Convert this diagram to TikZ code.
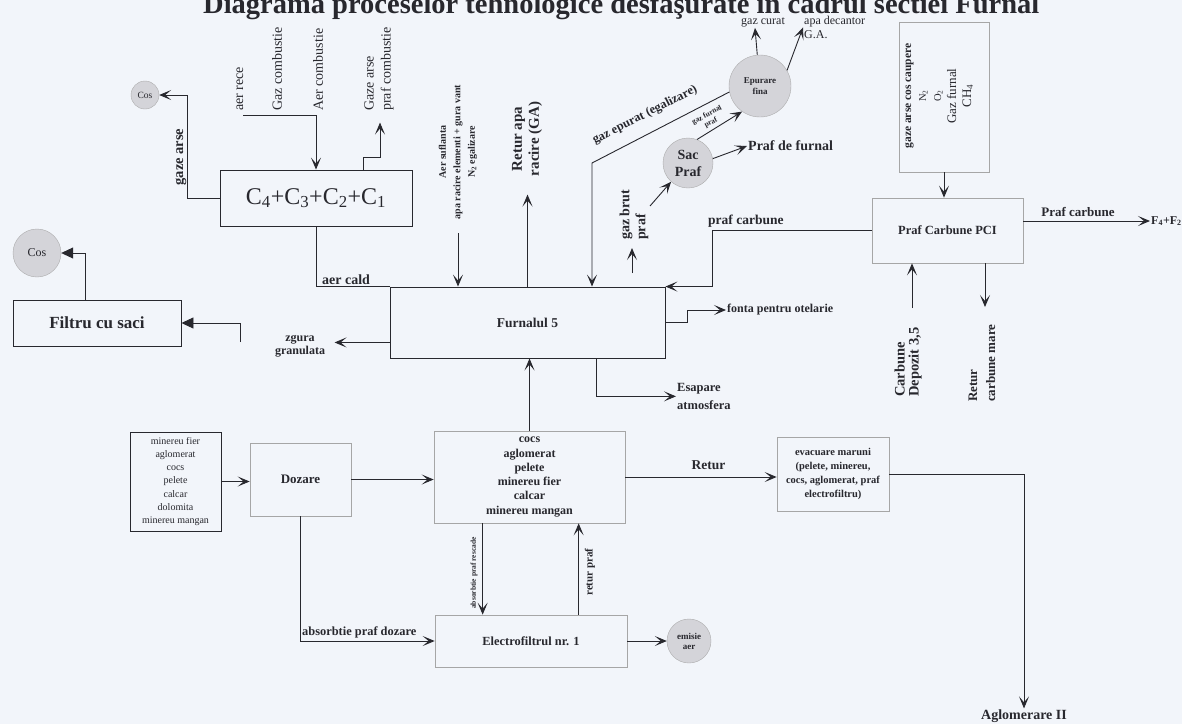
\documentclass[tikz,border=0pt]{standalone}
\usepackage{fontspec}
\setmainfont{Liberation Serif}
\usetikzlibrary{arrows.meta,positioning,calc}
\definecolor{paper}{RGB}{242,245,250}
\definecolor{ink}{RGB}{40,40,46}
\definecolor{disk}{RGB}{212,212,217}

\begin{document}
\begin{tikzpicture}[x=1pt,y=-1pt,
    every node/.style={text=ink,inner sep=1pt},
    fb/.style 2 args={font=\bfseries\fontsize{#1}{#2}\selectfont},
    fr/.style 2 args={font=\fontsize{#1}{#2}\selectfont},
    unit/.style={draw=ink,line width=0.9pt,inner sep=2pt},
    pale/.style={draw=gray!70,line width=0.7pt,inner sep=2pt},
    disc/.style={circle,draw=gray!65,fill=disk,inner sep=0pt},
    flow/.style={draw=ink,line width=0.9pt,-{Stealth[length=12pt,width=10pt,inset=6pt]}},
    fill flow/.style={draw=ink,line width=0.9pt,-{Triangle[length=12pt,width=11pt]}},
    pipe/.style={draw=ink,line width=0.9pt},
    up/.style={rotate=90}]

  \path[use as bounding box,fill=paper] (0,0) rectangle (1182,724);

  % title, cut by the top edge
  \node[fb={28.5}{30},anchor=base west] (title) at (202,13)
    {Diagrama proceselor tehnologice desfaşurate in cadrul sectiei Furnal};

  % units
  \node[unit,fr={24}{26},minimum width=192,minimum height=56] (cowper) at (316,198)
    {C\textsubscript{4}+C\textsubscript{3}+C\textsubscript{2}+C\textsubscript{1}};
  \node[unit,fb={17}{19},minimum width=168,minimum height=46] (filtru) at (97,323) {Filtru cu saci};
  \node[unit,fb={13.5}{15},minimum width=275,minimum height=71] (furnal) at (527.5,322.5) {Furnalul 5};
  \node[pale,minimum width=90,minimum height=150] (gazbox) at (944,97) {};
  \node[pale,fb={12.5}{14},minimum width=151,minimum height=65] (pci) at (947.5,230.5) {Praf Carbune PCI};
  \node[unit,fr={10}{13.3},align=center,minimum width=91,minimum height=99] (raw) at (175.5,481.5)
    {minereu fier\\aglomerat\\cocs\\pelete\\calcar\\dolomita\\minereu mangan};
  \node[pale,fb={13}{15},minimum width=101,minimum height=73] (dozare) at (300.5,479.5) {Dozare};
  \node[pale,fb={12}{14.3},align=center,minimum width=191,minimum height=92] (charge) at (529.5,477)
    {cocs\\aglomerat\\pelete\\minereu fier\\calcar\\minereu mangan};
  \node[pale,fb={10.5}{14.3},align=center,minimum width=112,minimum height=74] (evac) at (833,474)
    {evacuare maruni\\(pelete, minereu,\\cocs, aglomerat, praf\\electrofiltru)};
  \node[pale,fb={12.4}{14},minimum width=192,minimum height=52] (electro) at (531,641) {Electrofiltrul nr. 1};

  % discs
  \node[disc,minimum size=28,fr={9.5}{10}] (cos1) at (145,95) {Cos};
  \node[disc,minimum size=48,fr={12}{13}] (cos2) at (37,253) {Cos};
  \node[disc,minimum size=50,fb={14}{17},align=center] (sac) at (688,163) {Sac\\Praf};
  \node[disc,minimum size=62,fb={9}{11},align=center] (epur) at (760,86) {Epurare\\fina};
  \node[disc,minimum size=44,fb={9}{10},align=center] (emisie) at (689,641) {emisie\\aer};

  % labels
  \node[fb={14.5}{16},up] (lgaze) at (181,157) {gaze arse};
  \node[fr={14}{16},up,anchor=west] (lrece) at (240,112) {aer rece};
  \node[fr={14}{16},up,anchor=west] (lgazc) at (277,112) {Gaz combustie};
  \node[fr={14}{16},up,anchor=west] (laerc) at (318,112) {Aer combustie};
  \node[fr={14}{17},up,anchor=west,align=left] (lgazarse) at (379,112) {Gaze arse\\praf combustie};
  \node[fb={14}{16},anchor=south west] (lcald) at (321,286) {aer cald};
  \node[fb={12}{13},align=center] (lzgura) at (300,346) {zgura\\granulata};
  \node[fb={10}{14.5},up,align=center] (lsufl) at (458,152)
    {Aer suflanta\\apa racire elementi + gura vant\\N\textsubscript{2} egalizare};
  \node[fb={15}{17},up,align=center] (lretapa) at (527,139) {Retur apa\\racire (GA)};
  \node[fb={12.5}{14},rotate=27] (lepurat) at (645,115) {gaz epurat (egalizare)};
  \node[fb={14}{16},up,anchor=west,align=left] (lbrut) at (634,241) {gaz brut\\praf};
  \node[fb={7.5}{8.5},rotate=28,align=center] (lgfurnal) at (709,119) {gaz furnal\\praf};
  \node[fb={14}{16},anchor=west] (lpraff) at (747,146) {Praf de furnal};
  \node[fr={12}{13}] (lcurat) at (763,22) {gaz curat};
  \node[fr={12}{14},anchor=north west,align=left] (ldecant) at (803,15) {apa decantor\\G.A.};
  \node[fr={13}{15},up,align=center] (lgazbox) at (939,96)
    {{\bfseries\fontsize{11.5}{15}\selectfont gaze arse cos caupere}\\
     {\fontsize{10.5}{15}\selectfont N\textsubscript{2}}\\
     {\fontsize{10.5}{15}\selectfont O\textsubscript{2}}\\
     Gaz furnal\\CH\textsubscript{4}};
  \node[fb={13}{14}] (lpcarb) at (1078,212) {Praf carbune};
  \node[fb={12}{14},anchor=west] (f42) at (1150,221) {F\textsubscript{4}+F\textsubscript{2}};
  \node[fb={13.5}{15},anchor=south west] (lpraf) at (707,229) {praf carbune};
  \node[fb={14.5}{14},up,anchor=west,align=left] (ldepozit) at (908,398) {Carbune\\Depozit 3,5};
  \node[fb={13}{18},up,anchor=west,align=left] (lreturc) at (982,403) {Retur\\carbune mare};
  \node[fb={12}{14},anchor=west] (lfonta) at (726,310) {fonta pentru otelarie};
  \node[fb={12.5}{18},anchor=north west,align=left] (lesap) at (676,382) {Esapare\\atmosfera};
  \node[fb={14}{16}] (laglo) at (1024,716) {Aglomerare II};
  \node[fb={12.4}{14},anchor=south west] (ldozabs) at (301,639) {absorbtie praf dozare};
  \node[fb={7.5}{8},up] (lrescade) at (474,573) {absorbtie praf rescade};
  \node[fb={11}{12},up] (lreturp) at (590,572) {retur praf};

  % free ends
  \coordinate (coldair) at (243,115);
  \coordinate (slagfeed) at (240,342);
  \coordinate (blastin) at (458,233);
  \coordinate (epbend) at (592,163);
  \coordinate (rawgas) at (650,206);
  \coordinate (dustup) at (632,273);
  \coordinate (coalin) at (912,308);
  \coordinate (coalout) at (985,307);

  % cowpers
  \draw[flow] (cowper.west) -- ++(-32,0) |- (cos1.east);
  \draw[flow] (coldair) -| (cowper.north);
  \draw[flow] ($(cowper.north)+(47,0)$) -- ++(0,-12) -- ++(17,0) -- ++(0,-35);
  \draw[pipe] (cowper.south) |- (furnal.north west);

  % slag and bag filter
  \draw[flow] ($(furnal.south west)+(0,-16)$) -- ++(-55,0);
  \draw[fill flow] (slagfeed) |- (filtru.east);
  \draw[fill flow] ($(filtru.north)+(-12,0)$) |- (cos2.east);

  % furnace top
  \draw[flow] (blastin) -- (blastin |- furnal.north);
  \draw[flow] (furnal.north) -- ++(0,-92);
  \draw[flow] (epur.191) -- (epbend) -- (epbend |- furnal.north);
  \draw[flow] (rawgas) -- (sac.228);
  \draw[flow] (dustup) -- ++(0,-25);
  \draw[flow] (sac.69) -- (epur.235);
  \draw[flow] (sac.10) -- (lpraff.west);
  \draw[flow] (epur.95) -- ($(lcurat.south)+(-8,0)$);
  \draw[flow] (epur.30) -- (ldecant.west);

  % coal injection
  \draw[flow] (gazbox.south) -- (gazbox.south |- pci.north);
  \draw[flow] (pci.east |- f42) -- (f42.west);
  \draw[flow] (pci.west) -- ++(-159,0) |- (furnal.north east);
  \draw[flow] (coalin) -- (coalin |- pci.south);
  \draw[flow] (coalout |- pci.south) -- (coalout);

  % furnace outputs
  \draw[flow] (furnal.east) -- ++(22,0) |- (lfonta.west);
  \draw[flow] ($(furnal.south west)+(207,0)$) |- (lesap.west);

  % charging
  \draw[flow] (raw.east) -- (raw.east -| dozare.west);
  \draw[flow] (dozare.east) -- (dozare.east -| charge.west);
  \draw[flow] (charge.north) -- (charge.north |- furnal.south);
  \draw[flow] (charge.east) -- (charge.east -| evac.west)
    node[pos=0.55,above=6pt,fb={13.5}{15}] (lret) {Retur};
  \draw[flow] (evac.east) -| (laglo.north);
  \draw[flow] (dozare.south) |- (electro.west);
  \draw[flow] ($(charge.south west)+(49,0)$) -- ($(electro.north west)+(48,0)$);
  \draw[flow] ($(electro.north west)+(144,0)$) -- ($(charge.south west)+(145,0)$);
  \draw[flow] (electro.east) -- (emisie.west);
\end{tikzpicture}
\end{document}
